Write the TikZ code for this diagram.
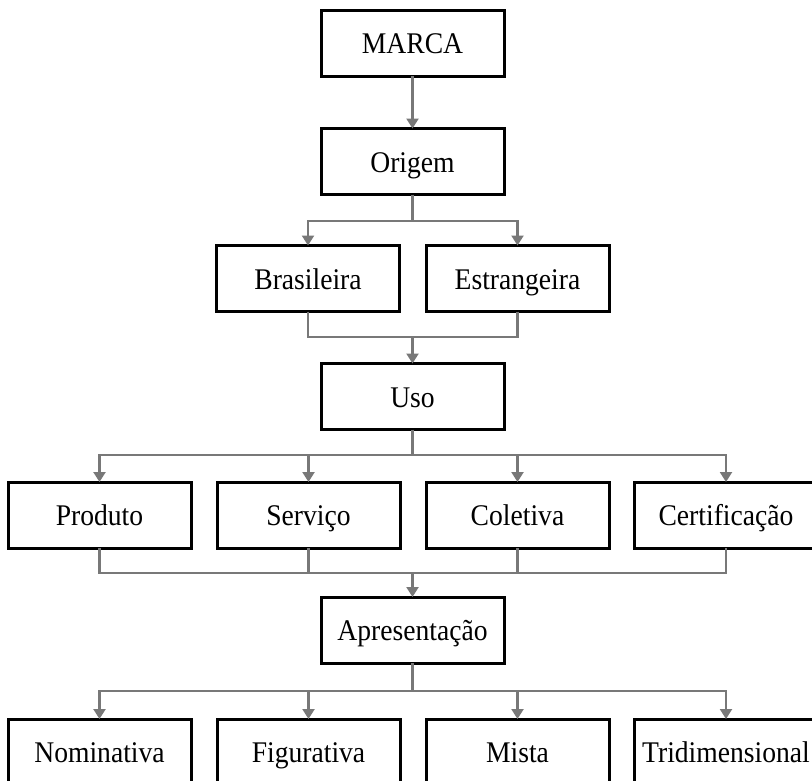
\documentclass[tikz,border=0pt]{standalone}
\usepackage{fontspec}
\setmainfont[FakeStretch=0.92]{Liberation Serif}
\usetikzlibrary{arrows.meta}
\begin{document}
\begin{tikzpicture}[x=1pt,y=-1pt,
  box/.style={draw=black,line width=3pt,minimum width=183pt,minimum height=66pt,inner sep=0pt,outer sep=0pt,text height=21pt,text depth=0pt,font=\fontsize{30pt}{34pt}\selectfont},
  link/.style={draw={rgb,255:red,120;green,120;blue,120},line width=2.2pt},
  arr/.style={link,-{Triangle[width=12pt,length=10pt]}}]
\useasboundingbox (0,0) rectangle (812,780);
\clip (0,0) rectangle (812,780);
\node[box] (marca) at (412.5,43) {MARCA};
\node[box] (origem) at (412.5,161.5) {Origem};
\node[box] (bras) at (308,278.5) {Brasileira};
\node[box] (estr) at (517.5,278.5) {Estrangeira};
\node[box] (uso) at (412.5,396.5) {Uso};
\node[box] (prod) at (99.5,515) {Produto};
\node[box] (serv) at (308.5,515) {Serviço};
\node[box] (colet) at (517.5,515) {Coletiva};
\node[box] (cert) at (726,515) {Certificação};
\node[box] (apres) at (412.5,630) {Apresentação};
\node[box] (nomi) at (99.5,752) {Nominativa};
\node[box] (figu) at (308.5,752) {Figurativa};
\node[box] (mista) at (517.5,752) {Mista};
\node[box] (tri) at (726,752) {Tridimensional};
\coordinate (j1) at (412.5,221);
\coordinate (j2) at (412.5,337);
\coordinate (j3) at (412.5,455);
\coordinate (j4) at (412.5,573);
\coordinate (j5) at (412.5,691);
\draw[arr] (marca.south) -- (origem.north);
\draw[link] (origem.south) -- (j1);
\draw[arr] (j1) -| (bras.north);
\draw[arr] (j1) -| (estr.north);
\draw[link] (bras.south) |- (j2);
\draw[link] (estr.south) |- (j2);
\draw[arr] (j2) -- (uso.north);
\draw[link] (uso.south) -- (j3);
\foreach \n in {prod,serv,colet,cert}{\draw[arr] (j3) -| (\n.north);}
\foreach \n in {prod,serv,colet,cert}{\draw[link] (\n.south) |- (j4);}
\draw[arr] (j4) -- (apres.north);
\draw[link] (apres.south) -- (j5);
\foreach \n in {nomi,figu,mista,tri}{\draw[arr] (j5) -| (\n.north);}
\end{tikzpicture}
\end{document}
